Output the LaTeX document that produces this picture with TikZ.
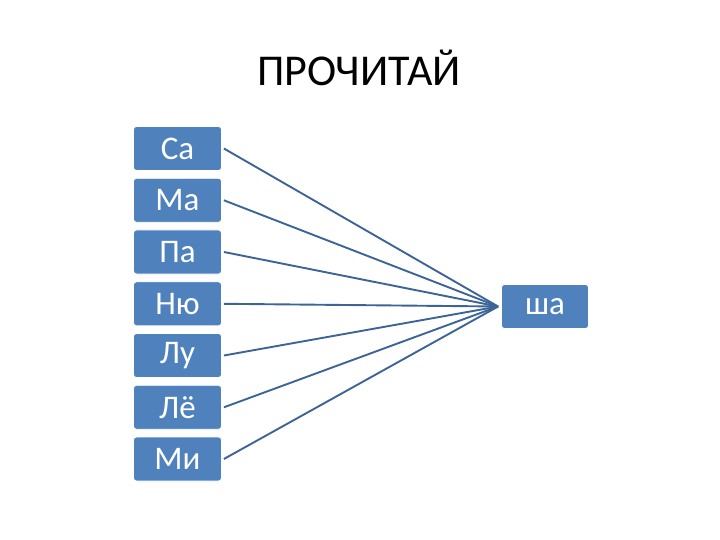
\documentclass[tikz,border=0pt]{standalone}
\usepackage{fontspec}
\setmainfont{Carlito}
\usepackage{tikz}
\definecolor{boxblue}{HTML}{4F81BD}
\definecolor{lineblue}{HTML}{3D6497}

\tikzset{
  syl/.style={rectangle,rounded corners=3pt,fill=boxblue,draw=white,line width=0.8pt,
    minimum width=88pt,minimum height=44pt,inner sep=0pt,text=white,font=\fontsize{33}{38}\selectfont},
  link/.style={lineblue,line width=1.9pt}
}

\begin{document}
\begin{tikzpicture}[x=1pt,y=-1pt]
    \useasboundingbox (0,0) rectangle (720,540);

    % Title
    \node (title) at (359,68) {\fontsize{44}{50}\selectfont ПРОЧИТАЙ};

    % Place the left syllables
    \node[syl] (sa) at (177.5,148.5) {Са};
    \node[syl] (ma) at (177.5,200.3) {Ма};
    \node[syl] (pa) at (177.5,252) {Па};
    \node[syl] (nyu) at (177.5,303.8) {Ню};
    \node[syl] (lu) at (177.5,355.5) {Лу};
    \node[syl] (lyo) at (177.5,407.3) {Лё};
    \node[syl] (mi) at (177.5,459) {Ми};

    % Place the ending
    \node[syl,minimum width=87pt] (sha) at (545,306.5) {ша};

    % Draw the links
    \draw[link] ([xshift=2pt]sa.east) -- ([xshift=-3pt]sha.west);
    \draw[link] ([xshift=2pt]ma.east) -- ([xshift=-3pt]sha.west);
    \draw[link] ([xshift=2pt]pa.east) -- ([xshift=-3pt]sha.west);
    \draw[link] ([xshift=2pt]nyu.east) -- ([xshift=-3pt]sha.west);
    \draw[link] ([xshift=2pt]lu.east) -- ([xshift=-3pt]sha.west);
    \draw[link] ([xshift=2pt]lyo.east) -- ([xshift=-3pt]sha.west);
    \draw[link] ([xshift=2pt]mi.east) -- ([xshift=-3pt]sha.west);

\end{tikzpicture}
\end{document}
